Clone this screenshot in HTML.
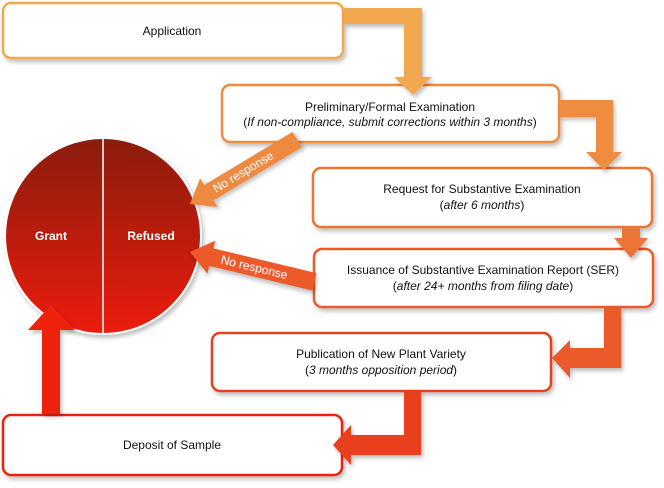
<!DOCTYPE html>
<html><head><meta charset="utf-8"><style>
body{margin:0;background:#fff;}
svg{display:block;font-family:"Liberation Sans",Arial,sans-serif;}
</style></head><body>
<svg width="664" height="488" viewBox="0 0 664 488" xmlns="http://www.w3.org/2000/svg">
<defs>
<linearGradient id="cg" x1="0" y1="0" x2="0" y2="1">
<stop offset="0" stop-color="#8a1c10"/><stop offset="1" stop-color="#ec1c08"/>
</linearGradient>
<filter id="sh" x="-10%" y="-10%" width="130%" height="140%"><feDropShadow dx="2" dy="3" stdDeviation="2" flood-color="#000" flood-opacity="0.25"/></filter>
</defs>
<circle cx="103" cy="236" r="98" fill="url(#cg)" stroke="#fff" stroke-width="2" filter="url(#sh)"/>
<line x1="103" y1="138" x2="103" y2="334" stroke="#fff" stroke-width="1.5"/>
<text x="51" y="240" fill="#fff" font-size="12" font-weight="bold" text-anchor="middle">Grant</text>
<text x="151" y="240" fill="#fff" font-size="12" font-weight="bold" text-anchor="middle">Refused</text>
<g filter="url(#sh)" fill="#fff" stroke-width="2.5">
<rect x="3" y="3" width="340" height="55" rx="8" stroke="#f2a850"/>
<rect x="222" y="85" width="337" height="57" rx="8" stroke="#ef8c40"/>
<rect x="313" y="168" width="339" height="59" rx="8" stroke="#ec7434"/>
<rect x="314" y="249" width="339" height="58" rx="8" stroke="#ea5a2c"/>
<rect x="212" y="333" width="339" height="58" rx="8" stroke="#e8401e"/>
<rect x="3" y="415" width="339" height="60" rx="8" stroke="#ec200c"/>
</g>
<g filter="url(#sh)">
<polygon fill="#f2a850" points="344,8 422,8 422,77 432,77 413,95 394,77 404,77 404,24 344,24"/>
<polygon fill="#ef8c40" points="560,100 613,100 613,152 622,152 604,170 586,152 596,152 596,117 560,117"/>
<polygon fill="#ec7434" points="622,228 640,228 640,238 648,238 631,258 614,238 622,238"/>
<polygon fill="#ea5a2c" points="604,308 621,308 621,368 570,368 570,378 552,358 570,340 570,348 604,348"/>
<polygon fill="#e8401e" points="404,392 421,392 421,455 351,455 351,465 333,445 351,425 351,435 404,435"/>
<polygon fill="#ec200c" points="42,414 60,414 60,330 75,330 51,305 28,330 42,330"/>
</g>
<g transform="translate(190,204) rotate(-31)" filter="url(#sh)">
<polygon fill="#ee8a40" points="0,0 22,-17 22,-9 125,-9 125,9 22,9 22,17"/>
<text x="28" y="4" fill="#fff" font-size="12">No response</text>
</g>
<g transform="translate(190,252) rotate(13.5)" filter="url(#sh)">
<polygon fill="#ec5a2c" points="0,0 22,-17 22,-9 128,-9 128,9 22,9 22,17"/>
<text x="32" y="4" fill="#fff" font-size="12">No response</text>
</g>
<g font-size="12" fill="#111" text-anchor="middle">
<text x="172" y="35">Application</text>
<text x="390" y="111">Preliminary/Formal Examination</text>
<text x="390" y="126">(<tspan font-style="italic">If non-compliance, submit corrections within 3 months</tspan>)</text>
<text x="482" y="193">Request for Substantive Examination</text>
<text x="482" y="209">(<tspan font-style="italic">after 6 months</tspan>)</text>
<text x="483" y="274">Issuance of Substantive Examination Report (SER)</text>
<text x="483" y="290">(<tspan font-style="italic">after 24+ months from filing date</tspan>)</text>
<text x="381" y="358">Publication of New Plant Variety</text>
<text x="381" y="374">(<tspan font-style="italic">3 months opposition period</tspan>)</text>
<text x="172" y="449">Deposit of Sample</text>
</g>
</svg>
</body></html>
